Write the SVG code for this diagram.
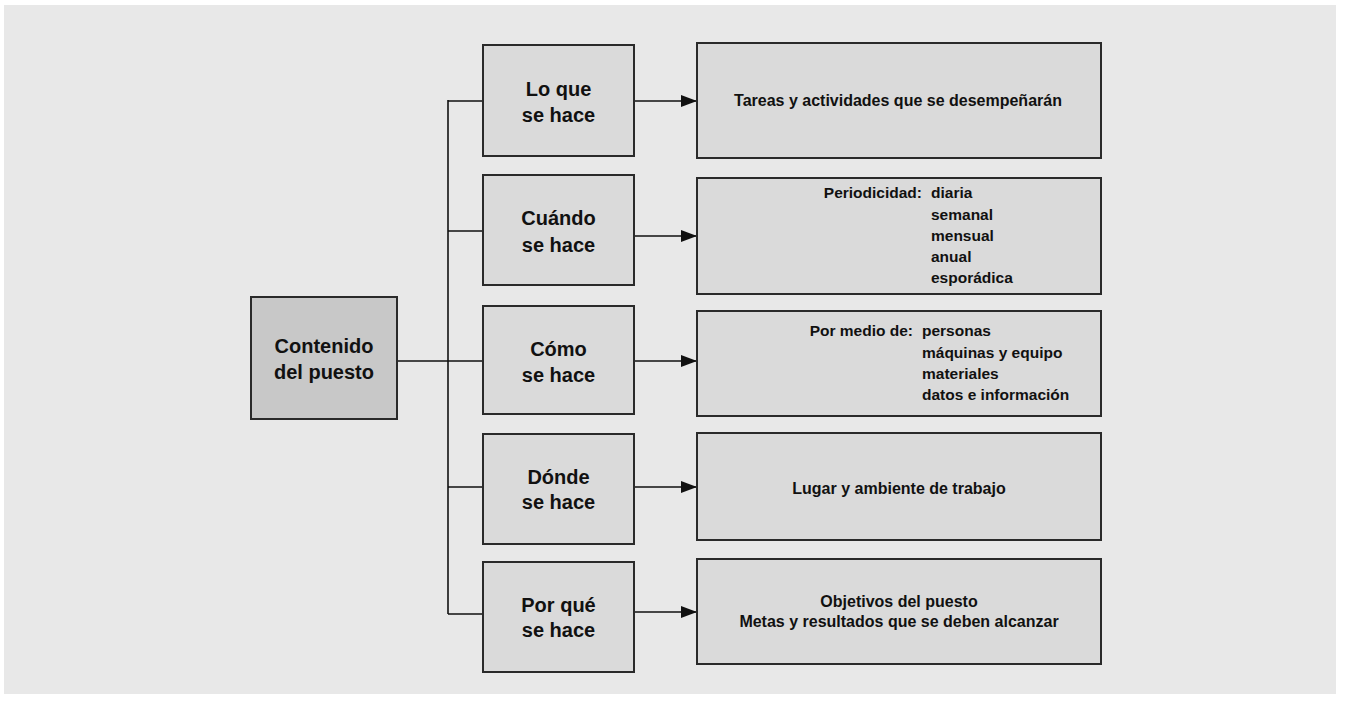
<svg xmlns="http://www.w3.org/2000/svg" width="1345" height="707" viewBox="0 0 1345 707">
<defs>
<marker id="arr" markerUnits="userSpaceOnUse" markerWidth="16" markerHeight="12" refX="16" refY="6" orient="auto">
<path d="M0,0 L16,6 L0,12 z" fill="#111"/>
</marker>
<style>
.bg{fill:#e8e8e8}
.box{fill:#dadada;stroke:#2a2a2a;stroke-width:2}
.main{fill:#c8c8c8;stroke:#2a2a2a;stroke-width:2}
.ln{fill:none;stroke:#111;stroke-width:1.6}
.t20{font-family:"Liberation Sans",Arial,sans-serif;font-weight:bold;font-size:20px;fill:#111;text-anchor:middle}
.t16{font-family:"Liberation Sans",Arial,sans-serif;font-weight:bold;font-size:15.5px;fill:#111}
.c{text-anchor:middle;font-size:16px}
.e{text-anchor:end}
</style>
</defs>
<rect class="bg" x="4" y="5" width="1332" height="689"/>

<g id="connectors">
<path class="ln" d="M448,100 V614"/>
<path class="ln" d="M448,101 H483"/>
<path class="ln" d="M448,231 H483"/>
<path class="ln" d="M397,361 H483"/>
<path class="ln" d="M448,487 H483"/>
<path class="ln" d="M448,614 H483"/>
<path class="ln" d="M634,101 H697" marker-end="url(#arr)"/>
<path class="ln" d="M634,236 H697" marker-end="url(#arr)"/>
<path class="ln" d="M634,361 H697" marker-end="url(#arr)"/>
<path class="ln" d="M634,487 H697" marker-end="url(#arr)"/>
<path class="ln" d="M634,612 H697" marker-end="url(#arr)"/>
</g>

<g id="contenido">
<rect class="main" x="251" y="297" width="146" height="122"/>
<text class="t20" x="324" y="353">Contenido</text>
<text class="t20" x="324" y="379">del puesto</text>
</g>

<g id="lo-que">
<rect class="box" x="483" y="45" width="151" height="111"/>
<text class="t20" x="558.5" y="96">Lo que</text>
<text class="t20" x="558.5" y="122">se hace</text>
</g>
<g id="cuando">
<rect class="box" x="483" y="175" width="151" height="110"/>
<text class="t20" x="558.5" y="225">Cuándo</text>
<text class="t20" x="558.5" y="252">se hace</text>
</g>
<g id="como">
<rect class="box" x="483" y="306" width="151" height="108"/>
<text class="t20" x="558.5" y="356">Cómo</text>
<text class="t20" x="558.5" y="382">se hace</text>
</g>
<g id="donde">
<rect class="box" x="483" y="434" width="151" height="110"/>
<text class="t20" x="558.5" y="484">Dónde</text>
<text class="t20" x="558.5" y="509">se hace</text>
</g>
<g id="porque">
<rect class="box" x="483" y="562" width="151" height="110"/>
<text class="t20" x="558.5" y="612">Por qué</text>
<text class="t20" x="558.5" y="637">se hace</text>
</g>

<g id="tareas">
<rect class="box" x="697" y="43" width="404" height="115"/>
<text class="t16 c" x="898" y="106">Tareas y actividades que se desempeñarán</text>
</g>
<g id="periodicidad">
<rect class="box" x="697" y="178" width="404" height="116"/>
<text class="t16 e" x="922" y="198">Periodicidad:</text>
<text class="t16" x="931" y="198">diaria</text>
<text class="t16" x="931" y="219.5">semanal</text>
<text class="t16" x="931" y="241">mensual</text>
<text class="t16" x="931" y="262">anual</text>
<text class="t16" x="931" y="283">esporádica</text>
</g>
<g id="medios">
<rect class="box" x="697" y="311" width="404" height="105"/>
<text class="t16 e" x="913" y="336">Por medio de:</text>
<text class="t16" x="922" y="336">personas</text>
<text class="t16" x="922" y="357.5">máquinas y equipo</text>
<text class="t16" x="922" y="379">materiales</text>
<text class="t16" x="922" y="400">datos e información</text>
</g>
<g id="lugar">
<rect class="box" x="697" y="433" width="404" height="107"/>
<text class="t16 c" x="899" y="494">Lugar y ambiente de trabajo</text>
</g>
<g id="objetivos">
<rect class="box" x="697" y="559" width="404" height="105"/>
<text class="t16 c" x="899" y="607">Objetivos del puesto</text>
<text class="t16 c" x="899" y="627">Metas y resultados que se deben alcanzar</text>
</g>
</svg>
